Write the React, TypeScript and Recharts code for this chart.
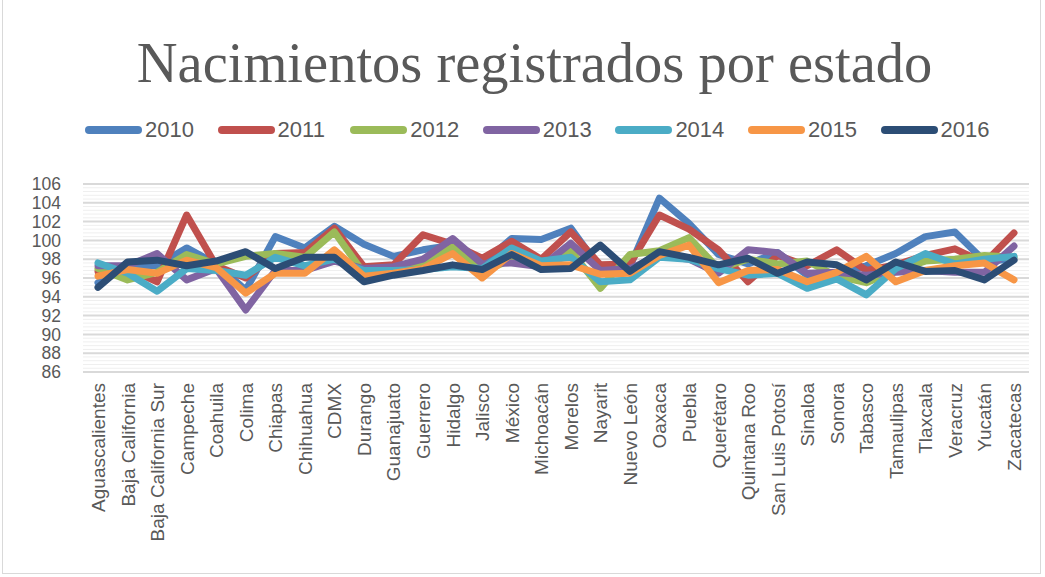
import { CartesianGrid, Line, LineChart, XAxis, YAxis } from "recharts";

const estados = [
  "Aguascalientes", "Baja California", "Baja California Sur", "Campeche", "Coahuila",
  "Colima", "Chiapas", "Chihuahua", "CDMX", "Durango", "Guanajuato", "Guerrero",
  "Hidalgo", "Jalisco", "México", "Michoacán", "Morelos", "Nayarit", "Nuevo León",
  "Oaxaca", "Puebla", "Querétaro", "Quintana Roo", "San Luis Potosí", "Sinaloa",
  "Sonora", "Tabasco", "Tamaulipas", "Tlaxcala", "Veracruz", "Yucatán", "Zacatecas",
];

const v2010 = [95.5, 97.3, 97.3, 99.2, 97.5, 94.7, 100.4, 99.2, 101.5, 99.6, 98.3, 99.0, 99.5, 97.5, 100.2, 100.1, 101.3, 97.0, 97.2, 104.5, 101.8, 98.5, 97.5, 98.7, 96.3, 96.5, 97.3, 98.6, 100.4, 100.9, 97.8, 98.0];
const v2011 = [96.7, 97.0, 95.6, 102.7, 97.3, 96.0, 98.6, 98.7, 101.3, 97.2, 97.4, 100.6, 99.6, 98.1, 99.9, 98.0, 100.9, 97.4, 97.5, 102.7, 101.2, 99.0, 95.6, 98.4, 97.3, 99.0, 96.8, 97.4, 98.4, 99.1, 97.6, 100.8];
const v2012 = [97.0, 95.8, 96.6, 98.5, 97.5, 98.3, 98.6, 98.2, 100.9, 96.5, 96.6, 97.5, 99.3, 96.6, 98.0, 97.4, 98.9, 94.9, 98.5, 98.9, 100.3, 97.0, 98.0, 97.5, 97.8, 96.2, 95.5, 96.8, 97.8, 98.0, 98.4, 98.2];
const v2013 = [97.3, 97.3, 98.6, 95.8, 97.0, 92.6, 96.8, 96.8, 97.8, 97.0, 97.2, 98.0, 100.2, 97.5, 97.6, 97.2, 99.7, 96.8, 97.0, 98.4, 98.0, 96.5, 99.0, 98.7, 96.5, 96.6, 96.3, 96.6, 96.8, 96.6, 96.6, 99.4];
const v2014 = [97.6, 96.5, 94.6, 97.0, 96.8, 96.3, 98.2, 97.3, 98.0, 96.8, 96.8, 96.9, 97.2, 97.0, 99.2, 97.8, 98.2, 95.6, 95.8, 98.2, 98.0, 97.0, 96.3, 96.5, 94.9, 95.9, 94.2, 97.0, 98.6, 97.5, 98.0, 98.3];
const v2015 = [96.2, 96.9, 96.5, 97.9, 97.1, 94.4, 96.5, 96.5, 99.0, 96.2, 96.5, 97.0, 98.6, 96.0, 98.6, 97.3, 97.4, 96.4, 96.5, 98.4, 99.5, 95.5, 96.8, 96.9, 95.6, 96.6, 98.3, 95.6, 96.8, 97.3, 97.6, 95.8];
const v2016 = [95.0, 97.7, 97.9, 97.3, 97.8, 98.8, 97.0, 98.2, 98.2, 95.6, 96.3, 96.8, 97.4, 96.9, 98.5, 96.9, 97.0, 99.5, 96.7, 98.8, 98.2, 97.4, 98.1, 96.5, 97.7, 97.4, 95.8, 97.7, 96.7, 96.8, 95.8, 97.9];

const yTicks = [86, 88, 90, 92, 94, 96, 98, 100, 102, 104, 106];

const series = [
  { key: "2010", values: v2010, color: "#4F81BD" },
  { key: "2011", values: v2011, color: "#C0504D" },
  { key: "2012", values: v2012, color: "#9BBB59" },
  { key: "2013", values: v2013, color: "#8064A2" },
  { key: "2014", values: v2014, color: "#4BACC6" },
  { key: "2015", values: v2015, color: "#F79646" },
  { key: "2016", values: v2016, color: "#2C4D75" },
];

const data = estados.map((estado, i) => {
  const row: Record<string, string | number> = { estado };
  series.forEach((s) => {
    row[s.key] = s.values[i];
  });
  return row;
});

// faint lines between the major ones, every 0.4
const minorLines: number[] = [];
for (let k = 0; k <= 50; k++) {
  const v = 86 + k * 0.4;
  if (k % 5 !== 0) minorLines.push(Math.round(v * 10) / 10);
}

const textGray = "#595959";
const sansFont = "'Liberation Sans', Arial, sans-serif";

function EstadoTick(props: any) {
  const { x, y, payload } = props;
  return (
    <text
      x={0}
      y={0}
      transform={`translate(${x + 7},${y + 3}) rotate(-90)`}
      textAnchor="end"
      fill={textGray}
      fontSize={19}
      fontFamily={sansFont}
    >
      {payload.value}
    </text>
  );
}

export default function App() {
  return (
    <div
      style={{
        position: "absolute",
        left: 0,
        top: 0,
        width: 1045,
        height: 577,
        background: "#fff",
        overflow: "hidden",
      }}
    >
      <div
        style={{
          position: "absolute",
          left: 2,
          top: -2,
          width: 1037,
          height: 574,
          border: "1px solid #d9d9d9",
        }}
      />
      <div
        style={{
          position: "absolute",
          top: 28,
          left: 12,
          width: 1045,
          textAlign: "center",
          fontFamily: "'Liberation Serif', serif",
          fontSize: 56.5,
          color: textGray,
          lineHeight: "70px",
        }}
      >
        Nacimientos registrados por estado
      </div>
      <div
        style={{
          position: "absolute",
          top: 117,
          left: 85,
          display: "flex",
          fontFamily: sansFont,
          fontSize: 22,
          color: textGray,
        }}
      >
        {series.map((s) => (
          <div key={s.key} style={{ display: "flex", alignItems: "center", width: 132.6 }}>
            <span
              style={{
                display: "inline-block",
                width: 57,
                height: 8,
                borderRadius: 4,
                background: s.color,
                marginRight: 3,
              }}
            />
            <span>{s.key}</span>
          </div>
        ))}
      </div>
      <LineChart
        width={1045}
        height={577}
        data={data}
        margin={{ top: 184, right: 16, bottom: 5, left: 0 }}
        style={{ position: "absolute", left: 0, top: 0 }}
      >
        <CartesianGrid
          vertical={false}
          horizontalValues={minorLines}
          stroke="#efefef"
          strokeWidth={1}
        />
        <CartesianGrid
          vertical={false}
          horizontalValues={yTicks}
          stroke="#d9d9d9"
          strokeWidth={2}
        />
        <XAxis
          dataKey="estado"
          interval={0}
          height={200}
          padding={{ left: 15, right: 15 }}
          axisLine={false}
          tickLine={false}
          tick={<EstadoTick />}
        />
        <YAxis
          domain={[86, 106]}
          ticks={yTicks}
          interval={0}
          width={83}
          axisLine={false}
          tickLine={false}
          tickSize={0}
          tickMargin={22}
          tick={{ fill: textGray, fontSize: 17.5, fontFamily: sansFont }}
        />
        {series.map((s) => (
          <Line
            key={s.key}
            type="linear"
            dataKey={s.key}
            stroke={s.color}
            strokeWidth={7}
            strokeLinejoin="round"
            strokeLinecap="round"
            dot={false}
            activeDot={false}
            isAnimationActive={false}
          />
        ))}
      </LineChart>
    </div>
  );
}
